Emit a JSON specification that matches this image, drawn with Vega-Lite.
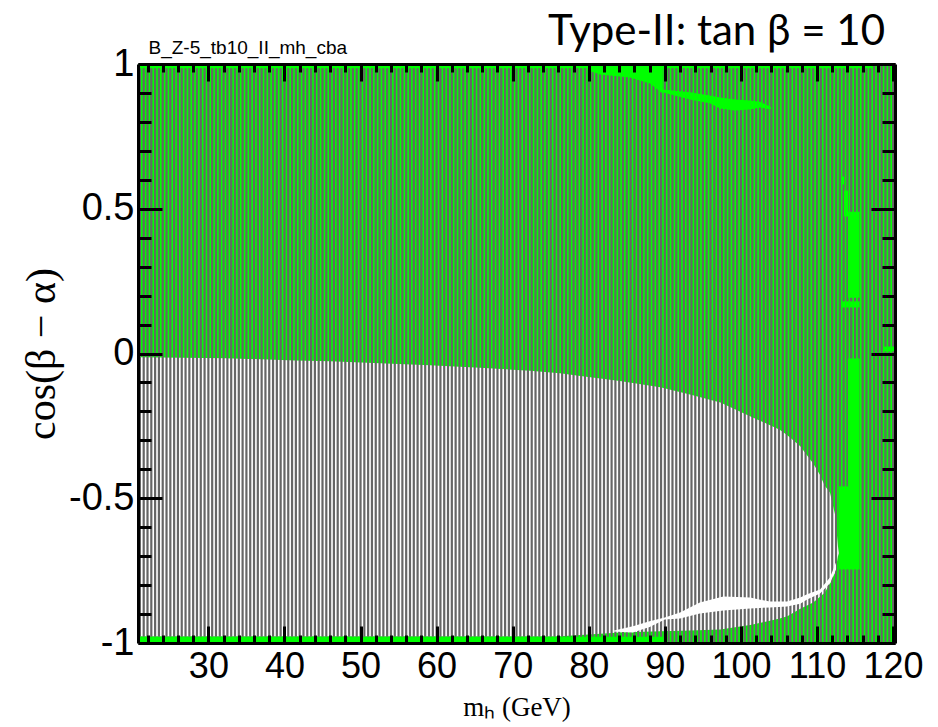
{
 "$schema": "https://vega.github.io/schema/vega-lite/v6.json",
 "width": 757, "height": 579,
 "autosize": {"type": "none"},
 "padding": {"left": 138, "top": 64, "right": 43, "bottom": 84},
 "background": "white",
 "view": {"fill": "#00ff00", "stroke": null},
 "config": {"axis": {"grid": false, "domainColor": "black", "domainWidth": 3, "tickColor": "black", "tickWidth": 3, "labelColor": "black", "titleColor": "black", "labelFont": "Liberation Sans", "zindex": 1}},
 "title": {"text": "Type-II: tan β = 10", "anchor": "end", "frame": "group", "font": "Lato", "fontSize": 42, "fontWeight": "normal", "color": "black", "dx": -10, "dy": 15, "offset": 0},
 "resolve": {"axis": {"x": "independent", "y": "independent"}},
 "datasets": {
  "band": [
   {"x": 20.75, "lo": -0.977, "hi": -0.013}, {"x": 32.2, "lo": -0.977, "hi": -0.016}, {"x": 41.4, "lo": -0.977, "hi": -0.024},
   {"x": 46.0, "lo": -0.977, "hi": -0.027}, {"x": 59.1, "lo": -0.977, "hi": -0.041}, {"x": 65.7, "lo": -0.977, "hi": -0.049},
   {"x": 72.3, "lo": -0.977, "hi": -0.060}, {"x": 76.2, "lo": -0.977, "hi": -0.068}, {"x": 78.9, "lo": -0.972, "hi": -0.078},
   {"x": 84.1, "lo": -0.964, "hi": -0.095}, {"x": 89.4, "lo": -0.959, "hi": -0.117}, {"x": 93.3, "lo": -0.957, "hi": -0.142},
   {"x": 97.3, "lo": -0.953, "hi": -0.169}, {"x": 101.4, "lo": -0.937, "hi": -0.219}, {"x": 105.1, "lo": -0.915, "hi": -0.263},
   {"x": 106.1, "lo": -0.908, "hi": -0.282}, {"x": 107.8, "lo": -0.882, "hi": -0.320}, {"x": 109.5, "lo": -0.860, "hi": -0.380},
   {"x": 110.4, "lo": -0.840, "hi": -0.420}, {"x": 111.0, "lo": -0.826, "hi": -0.456}, {"x": 111.7, "lo": -0.795, "hi": -0.480},
   {"x": 112.4, "lo": -0.756, "hi": -0.560}, {"x": 112.75, "lo": -0.700, "hi": -0.666}, {"x": 112.9, "lo": -0.690, "hi": -0.690}
  ],
  "wedge": [
   {"x": 83.2, "lo": -0.960, "hi": -0.958}, {"x": 85.8, "lo": -0.964, "hi": -0.942}, {"x": 88.0, "lo": -0.945, "hi": -0.925},
   {"x": 90.0, "lo": -0.919, "hi": -0.912}, {"x": 92.0, "lo": -0.915, "hi": -0.895}, {"x": 94.6, "lo": -0.898, "hi": -0.860},
   {"x": 97.7, "lo": -0.888, "hi": -0.839}, {"x": 101.2, "lo": -0.881, "hi": -0.843}, {"x": 103.8, "lo": -0.877, "hi": -0.857},
   {"x": 106.05, "lo": -0.874, "hi": -0.857}, {"x": 107.8, "lo": -0.864, "hi": -0.843}, {"x": 108.7, "lo": -0.850, "hi": -0.832},
   {"x": 110.4, "lo": -0.829, "hi": -0.815}, {"x": 111.7, "lo": -0.794, "hi": -0.774}, {"x": 112.5, "lo": -0.746, "hi": -0.722}
  ],
  "streak": [
   {"x": 80.2, "lo": 0.975, "hi": 0.985}, {"x": 81.5, "lo": 0.964, "hi": 1}, {"x": 85.4, "lo": 0.953, "hi": 1},
   {"x": 88.05, "lo": 0.933, "hi": 1}, {"x": 89.36, "lo": 0.905, "hi": 1}, {"x": 89.6, "lo": 0.900, "hi": 1},
   {"x": 89.7, "lo": 0.902, "hi": 0.912}, {"x": 93.3, "lo": 0.877, "hi": 0.902}, {"x": 95.9, "lo": 0.864, "hi": 0.891},
   {"x": 97.25, "lo": 0.846, "hi": 0.884}, {"x": 99.2, "lo": 0.839, "hi": 0.877}, {"x": 101.2, "lo": 0.843, "hi": 0.874},
   {"x": 102.5, "lo": 0.850, "hi": 0.870}, {"x": 103.8, "lo": 0.843, "hi": 0.853}, {"x": 104.0, "lo": 0.848, "hi": 0.848}
  ],
  "blocks": [
   {"x1": 113.15, "x2": 113.55, "y1": 0.584, "y2": 0.611},
   {"x1": 113.55, "x2": 114.07, "y1": 0.473, "y2": 0.563},
   {"x1": 114.07, "x2": 115.6, "y1": 0.193, "y2": 0.49},
   {"x1": 113.28, "x2": 115.6, "y1": 0.159, "y2": 0.180},
   {"x1": 114.07, "x2": 115.6, "y1": -0.746, "y2": -0.017},
   {"x1": 112.9, "x2": 114.07, "y1": -0.746, "y2": -0.459},
   {"x1": 118.7, "x2": 120.25, "y1": 0.007, "y2": 0.024}
  ],
  "scan": [
   {"m":21,"lo":-0.978,"hi":0.985},{"m":21.5,"lo":-0.978,"hi":0.985},{"m":22,"lo":-0.978,"hi":0.985},{"m":22.5,"lo":-0.978,"hi":0.985},
   {"m":23,"lo":-0.978,"hi":0.985},{"m":23.5,"lo":-0.978,"hi":0.985},{"m":24,"lo":-0.978,"hi":0.985},{"m":24.5,"lo":-0.978,"hi":0.985},
   {"m":25,"lo":-0.978,"hi":0.985},{"m":25.5,"lo":-0.978,"hi":0.985},{"m":26,"lo":-0.978,"hi":0.985},{"m":26.5,"lo":-0.978,"hi":0.985},
   {"m":27,"lo":-0.978,"hi":0.985},{"m":27.5,"lo":-0.978,"hi":0.985},{"m":28,"lo":-0.978,"hi":0.985},{"m":28.5,"lo":-0.978,"hi":0.985},
   {"m":29,"lo":-0.978,"hi":0.985},{"m":29.5,"lo":-0.978,"hi":0.985},{"m":30,"lo":-0.978,"hi":0.985},{"m":30.5,"lo":-0.978,"hi":0.985},
   {"m":31,"lo":-0.978,"hi":0.985},{"m":31.5,"lo":-0.978,"hi":0.985},{"m":32,"lo":-0.978,"hi":0.985},{"m":32.5,"lo":-0.978,"hi":0.985},
   {"m":33,"lo":-0.978,"hi":0.985},{"m":33.5,"lo":-0.978,"hi":0.985},{"m":34,"lo":-0.978,"hi":0.985},{"m":34.5,"lo":-0.978,"hi":0.985},
   {"m":35,"lo":-0.978,"hi":0.985},{"m":35.5,"lo":-0.978,"hi":0.985},{"m":36,"lo":-0.978,"hi":0.985},{"m":36.5,"lo":-0.978,"hi":0.985},
   {"m":37,"lo":-0.978,"hi":0.985},{"m":37.5,"lo":-0.978,"hi":0.985},{"m":38,"lo":-0.978,"hi":0.985},{"m":38.5,"lo":-0.978,"hi":0.985},
   {"m":39,"lo":-0.978,"hi":0.985},{"m":39.5,"lo":-0.978,"hi":0.985},{"m":40,"lo":-0.978,"hi":0.985},{"m":40.5,"lo":-0.978,"hi":0.985},
   {"m":41,"lo":-0.978,"hi":0.985},{"m":41.5,"lo":-0.978,"hi":0.985},{"m":42,"lo":-0.978,"hi":0.985},{"m":42.5,"lo":-0.978,"hi":0.985},
   {"m":43,"lo":-0.978,"hi":0.985},{"m":43.5,"lo":-0.978,"hi":0.985},{"m":44,"lo":-0.978,"hi":0.985},{"m":44.5,"lo":-0.978,"hi":0.985},
   {"m":45,"lo":-0.978,"hi":0.985},{"m":45.5,"lo":-0.978,"hi":0.985},{"m":46,"lo":-0.978,"hi":0.985},{"m":46.5,"lo":-0.978,"hi":0.985},
   {"m":47,"lo":-0.978,"hi":0.985},{"m":47.5,"lo":-0.978,"hi":0.985},{"m":48,"lo":-0.978,"hi":0.985},{"m":48.5,"lo":-0.978,"hi":0.985},
   {"m":49,"lo":-0.978,"hi":0.985},{"m":49.5,"lo":-0.978,"hi":0.985},{"m":50,"lo":-0.978,"hi":0.985},{"m":50.5,"lo":-0.978,"hi":0.985},
   {"m":51,"lo":-0.978,"hi":0.985},{"m":51.5,"lo":-0.978,"hi":0.985},{"m":52,"lo":-0.978,"hi":0.985},{"m":52.5,"lo":-0.978,"hi":0.985},
   {"m":53,"lo":-0.978,"hi":0.985},{"m":53.5,"lo":-0.978,"hi":0.985},{"m":54,"lo":-0.978,"hi":0.985},{"m":54.5,"lo":-0.978,"hi":0.985},
   {"m":55,"lo":-0.978,"hi":0.985},{"m":55.5,"lo":-0.978,"hi":0.985},{"m":56,"lo":-0.978,"hi":0.985},{"m":56.5,"lo":-0.978,"hi":0.985},
   {"m":57,"lo":-0.978,"hi":0.985},{"m":57.5,"lo":-0.978,"hi":0.985},{"m":58,"lo":-0.978,"hi":0.985},{"m":58.5,"lo":-0.978,"hi":0.985},
   {"m":59,"lo":-0.978,"hi":0.985},{"m":59.5,"lo":-0.978,"hi":0.985},{"m":60,"lo":-0.978,"hi":0.985},{"m":60.5,"lo":-0.978,"hi":0.985},
   {"m":61,"lo":-0.978,"hi":0.985},{"m":61.5,"lo":-0.978,"hi":0.985},{"m":62,"lo":-0.978,"hi":0.985},{"m":62.5,"lo":-0.978,"hi":0.985},
   {"m":63,"lo":-0.978,"hi":0.985},{"m":63.5,"lo":-0.978,"hi":0.985},{"m":64,"lo":-0.978,"hi":0.985},{"m":64.5,"lo":-0.978,"hi":0.985},
   {"m":65,"lo":-0.978,"hi":0.985},{"m":65.5,"lo":-0.978,"hi":0.985},{"m":66,"lo":-0.978,"hi":0.985},{"m":66.5,"lo":-0.978,"hi":0.985},
   {"m":67,"lo":-0.978,"hi":0.985},{"m":67.5,"lo":-0.978,"hi":0.985},{"m":68,"lo":-0.978,"hi":0.985},{"m":68.5,"lo":-0.978,"hi":0.985},
   {"m":69,"lo":-0.978,"hi":0.985},{"m":69.5,"lo":-0.978,"hi":0.985},{"m":70,"lo":-0.978,"hi":0.985},{"m":70.5,"lo":-0.978,"hi":0.985},
   {"m":71,"lo":-0.978,"hi":0.985},{"m":71.5,"lo":-0.978,"hi":0.985},{"m":72,"lo":-0.978,"hi":0.985},{"m":72.5,"lo":-0.978,"hi":0.985},
   {"m":73,"lo":-0.978,"hi":0.985},{"m":73.5,"lo":-0.978,"hi":0.985},{"m":74,"lo":-0.978,"hi":0.985},{"m":74.5,"lo":-0.978,"hi":0.985},
   {"m":75,"lo":-0.978,"hi":0.985},{"m":75.5,"lo":-0.978,"hi":0.985},{"m":76,"lo":-0.978,"hi":0.985},{"m":76.5,"lo":-0.978,"hi":0.985},
   {"m":77,"lo":-0.978,"hi":0.985},{"m":77.5,"lo":-0.978,"hi":0.985},{"m":78,"lo":-0.978,"hi":0.985},{"m":78.5,"lo":-0.978,"hi":0.985},
   {"m":79,"lo":-0.978,"hi":0.985},{"m":79.5,"lo":-0.978,"hi":0.985},{"m":80,"lo":-0.978,"hi":0.985},{"m":80.5,"lo":-0.978,"hi":0.985},
   {"m":81,"lo":-0.978,"hi":0.985},{"m":81.5,"lo":-0.978,"hi":0.985},{"m":82,"lo":-0.978,"hi":0.985},{"m":82.5,"lo":-0.978,"hi":0.985},
   {"m":83,"lo":-0.978,"hi":0.985},{"m":83.5,"lo":-0.978,"hi":0.985},{"m":84,"lo":-0.978,"hi":0.985},{"m":84.5,"lo":-0.978,"hi":0.985},
   {"m":85,"lo":-0.978,"hi":0.985},{"m":85.5,"lo":-0.978,"hi":0.985},{"m":86,"lo":-0.978,"hi":0.985},{"m":86.5,"lo":-0.978,"hi":0.985},
   {"m":87,"lo":-0.978,"hi":0.985},{"m":87.5,"lo":-0.978,"hi":0.985},{"m":88,"lo":-0.978,"hi":0.985},{"m":88.5,"lo":-0.978,"hi":0.985},
   {"m":89,"lo":-0.978,"hi":0.985},{"m":89.5,"lo":-0.978,"hi":0.985},
   {"m":90,"lo":-1,"hi":0.985},{"m":90.5,"lo":-1,"hi":0.985},{"m":91,"lo":-1,"hi":0.985},{"m":91.5,"lo":-1,"hi":0.985},
   {"m":92,"lo":-1,"hi":0.985},{"m":92.5,"lo":-1,"hi":0.985},{"m":93,"lo":-1,"hi":0.985},{"m":93.5,"lo":-1,"hi":0.985},
   {"m":94,"lo":-1,"hi":0.985},{"m":94.5,"lo":-1,"hi":0.985},{"m":95,"lo":-1,"hi":0.985},{"m":95.5,"lo":-1,"hi":0.985},
   {"m":96,"lo":-1,"hi":0.985},{"m":96.5,"lo":-1,"hi":0.985},{"m":97,"lo":-1,"hi":0.985},{"m":97.5,"lo":-1,"hi":0.985},
   {"m":98,"lo":-1,"hi":0.985},{"m":98.5,"lo":-1,"hi":0.985},{"m":99,"lo":-1,"hi":0.985},{"m":99.5,"lo":-1,"hi":0.985},
   {"m":100,"lo":-1,"hi":0.985},{"m":100.5,"lo":-1,"hi":0.985},{"m":101,"lo":-1,"hi":0.985},{"m":101.5,"lo":-1,"hi":0.985},
   {"m":102,"lo":-1,"hi":0.985},{"m":102.5,"lo":-1,"hi":0.985},{"m":103,"lo":-1,"hi":0.985},{"m":103.5,"lo":-1,"hi":0.985},
   {"m":104,"lo":-1,"hi":0.985},{"m":104.5,"lo":-1,"hi":0.985},{"m":105,"lo":-1,"hi":0.985},{"m":105.5,"lo":-1,"hi":0.985},
   {"m":106,"lo":-1,"hi":0.985},{"m":106.5,"lo":-1,"hi":0.985},{"m":107,"lo":-1,"hi":0.985},{"m":107.5,"lo":-1,"hi":0.985},
   {"m":108,"lo":-1,"hi":0.985},{"m":108.5,"lo":-1,"hi":0.985},{"m":109,"lo":-1,"hi":0.985},{"m":109.5,"lo":-1,"hi":0.985},
   {"m":110,"lo":-1,"hi":0.985},{"m":110.5,"lo":-1,"hi":0.985},{"m":111,"lo":-1,"hi":0.985},{"m":111.5,"lo":-1,"hi":0.985},
   {"m":112,"lo":-1,"hi":0.985},{"m":112.5,"lo":-1,"hi":0.985},{"m":113,"lo":-1,"hi":0.985},{"m":113.5,"lo":-1,"hi":0.985},
   {"m":114,"lo":-1,"hi":0.985},{"m":114.5,"lo":-1,"hi":0.985},{"m":115,"lo":-1,"hi":0.985},{"m":115.5,"lo":-1,"hi":0.985},
   {"m":116,"lo":-1,"hi":0.985},{"m":116.5,"lo":-1,"hi":0.985},{"m":117,"lo":-1,"hi":0.985},
   {"m":117.5,"lo":-1,"hi":1},{"m":118,"lo":-1,"hi":1},{"m":118.5,"lo":-1,"hi":1},{"m":119,"lo":-1,"hi":1},
   {"m":119.5,"lo":-1,"hi":1},{"m":120,"lo":-1,"hi":1}
  ]
 },
 "layer": [
  {
   "data": {"name": "band"},
   "mark": {"type": "area", "color": "white", "clip": true},
   "encoding": {
    "x": {"field": "x", "type": "quantitative", "scale": {"domain": [20.75, 120.25], "nice": false, "zero": false},
     "axis": {"orient": "bottom", "zindex": 2, "ticks": false, "domain": true, "labels": true, "values": [30,40,50,60,70,80,90,100,110,120],
      "labelFontSize": 36, "labelPadding": 6, "labelFlush": false, "labelOverlap": false,
      "title": "mₕ (GeV)", "titleFont": "Liberation Serif", "titleFontSize": 27, "titleFontWeight": "normal", "titlePadding": 10}},
    "y": {"field": "lo", "type": "quantitative", "scale": {"domain": [-1, 1], "nice": false, "zero": false},
     "axis": {"orient": "left", "zindex": 2, "ticks": false, "domain": true, "values": [-1,-0.5,0,0.5,1],
      "labelExpr": "datum.value < 0 ? '-' + format(-datum.value, '~g') : format(datum.value, '~g')",
      "labelFontSize": 38, "labelPadding": 4, "labelFlush": false, "labelOverlap": false,
      "title": "cos(β − α)", "titleFont": "Liberation Serif", "titleFontSize": 42, "titleFontWeight": "normal", "titlePadding": 5}},
    "y2": {"field": "hi"}
   }
  },
  {
   "data": {"name": "scan"},
   "mark": {"type": "rule", "color": "#666666", "strokeWidth": 2.2, "clip": true},
   "encoding": {
    "x": {"field": "m", "type": "quantitative", "scale": {"domain": [20.75, 120.25], "nice": false, "zero": false},
     "axis": {"orient": "bottom", "zindex": 2, "labels": false, "domain": false, "ticks": true, "tickSize": -17, "values": [30,40,50,60,70,80,90,100,110,120], "title": null}},
    "y": {"field": "lo", "type": "quantitative", "scale": {"domain": [-1, 1], "nice": false, "zero": false},
     "axis": {"orient": "left", "zindex": 2, "labels": false, "domain": false, "ticks": true, "tickSize": -24, "values": [-1,-0.5,0,0.5,1], "title": null}},
    "y2": {"field": "hi"}
   }
  },
  {
   "data": {"name": "wedge"},
   "mark": {"type": "area", "color": "white", "clip": true},
   "encoding": {
    "x": {"field": "x", "type": "quantitative", "scale": {"domain": [20.75, 120.25], "nice": false, "zero": false},
     "axis": {"orient": "bottom", "zindex": 2, "labels": false, "domain": false, "ticks": true, "tickSize": -8,
      "values": [22,24,26,28,32,34,36,38,42,44,46,48,52,54,56,58,62,64,66,68,72,74,76,78,82,84,86,88,92,94,96,98,102,104,106,108,112,114,116,118], "title": null}},
    "y": {"field": "lo", "type": "quantitative", "scale": {"domain": [-1, 1], "nice": false, "zero": false},
     "axis": {"orient": "left", "zindex": 2, "labels": false, "domain": false, "ticks": true, "tickSize": -13,
      "values": [-0.9,-0.8,-0.7,-0.6,-0.4,-0.3,-0.2,-0.1,0.1,0.2,0.3,0.4,0.6,0.7,0.8,0.9], "title": null}},
    "y2": {"field": "hi"}
   }
  },
  {
   "data": {"name": "streak"},
   "mark": {"type": "area", "color": "#00ff00", "clip": true},
   "encoding": {
    "x": {"field": "x", "type": "quantitative", "scale": {"domain": [20.75, 120.25], "nice": false, "zero": false},
     "axis": {"orient": "top", "zindex": 2, "labels": false, "domain": true, "ticks": true, "tickSize": -17, "values": [30,40,50,60,70,80,90,100,110,120],
      "title": "B_Z-5_tb10_II_mh_cba", "titleFont": "Liberation Sans", "titleFontSize": 19, "titleFontWeight": "normal",
      "titleAlign": "left", "titleAnchor": "start", "titleX": 10, "titlePadding": 5}},
    "y": {"field": "lo", "type": "quantitative", "scale": {"domain": [-1, 1], "nice": false, "zero": false},
     "axis": {"orient": "right", "zindex": 2, "labels": false, "domain": true, "ticks": true, "tickSize": -24, "values": [-1,-0.5,0,0.5,1], "title": null}},
    "y2": {"field": "hi"}
   }
  },
  {
   "data": {"name": "blocks"},
   "mark": {"type": "rect", "color": "#00ff00", "clip": true},
   "encoding": {
    "x": {"field": "x1", "type": "quantitative", "scale": {"domain": [20.75, 120.25], "nice": false, "zero": false},
     "axis": {"orient": "top", "zindex": 2, "labels": false, "domain": false, "ticks": true, "tickSize": -8,
      "values": [22,24,26,28,32,34,36,38,42,44,46,48,52,54,56,58,62,64,66,68,72,74,76,78,82,84,86,88,92,94,96,98,102,104,106,108,112,114,116,118], "title": null}},
    "x2": {"field": "x2"},
    "y": {"field": "y1", "type": "quantitative", "scale": {"domain": [-1, 1], "nice": false, "zero": false},
     "axis": {"orient": "right", "zindex": 2, "labels": false, "domain": false, "ticks": true, "tickSize": -13,
      "values": [-0.9,-0.8,-0.7,-0.6,-0.4,-0.3,-0.2,-0.1,0.1,0.2,0.3,0.4,0.6,0.7,0.8,0.9], "title": null}},
    "y2": {"field": "y2"}
   }
  }
 ]
}
